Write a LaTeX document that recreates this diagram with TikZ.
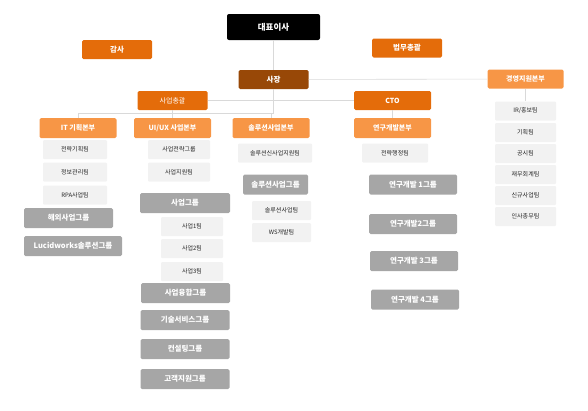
\documentclass[tikz,border=0pt]{standalone}
\usepackage{fontspec}
\setmainfont{Noto Sans CJK KR}
\usepackage{tikz}
\usetikzlibrary{shapes,arrows}
\definecolor{orgdark}{HTML}{E46C0A}
\definecolor{orglight}{HTML}{F79646}
\definecolor{brown}{HTML}{984807}
\definecolor{teamgrey}{HTML}{F2F2F2}
\definecolor{teamtext}{HTML}{262626}
\definecolor{grpgrey}{HTML}{A6A6A6}
\definecolor{linegrey}{HTML}{D9D9D9}
\tikzset{
	boss/.style  = {fill=black, text=white, rounded corners=2pt, inner sep=0pt,
		minimum width=93pt, minimum height=26pt, font=\bfseries\fontsize{8.5}{8.5}\selectfont},
	head/.style  = {fill=orgdark, text=white, rounded corners=1.5pt, inner sep=0pt,
		minimum width=70pt, minimum height=19pt, font=\bfseries\fontsize{7.5}{7.5}\selectfont},
	chief/.style = {head, fill=brown},
	div/.style   = {head, fill=orglight, minimum width=77pt, minimum height=20pt,
		font=\bfseries\fontsize{7}{7}\selectfont},
	team/.style  = {fill=teamgrey, text=teamtext, rounded corners=1pt, inner sep=0pt,
		minimum width=62pt, minimum height=19pt, font=\fontsize{6}{6}\selectfont},
	grp/.style   = {fill=grpgrey, text=white, rounded corners=1.5pt, inner sep=0pt,
		minimum width=89pt, minimum height=20pt, font=\bfseries\fontsize{7.5}{7.5}\selectfont},
	link/.style  = {draw=linegrey, line width=0.6pt}
}

\begin{document}
\begin{tikzpicture}[x=1pt, y=-1pt]
	\useasboundingbox (0,0) rectangle (588,410);
	% top level
	\draw
	node at (273.5,27)[boss] (ceo) {대표이사}
	node at (117,49.5)[head] (audit) {감사}
	node at (407,48)[head] (legal) {법무총괄}
	node at (273.5,79.5)[chief] (pres) {사장}
	node at (525.5,79)[div, minimum width=76pt, minimum height=19pt] (mgmt) {경영지원본부}
	node at (172.5,100.5)[head, font=\fontsize{7}{7}\selectfont] (biz) {사업총괄}
	node at (392.5,100.5)[head, minimum width=77pt, font=\bfseries\fontsize{7}{7}\selectfont] (cto) {CTO};
	
	% divisions
	\draw
	node at (78,128)[div] (it) {IT 기획본부}
	node at (172.5,128)[div] (uiux) {UI/UX 사업본부}
	node at (271,128)[div] (sol) {솔루션사업본부}
	node at (392.5,128)[div] (rnd) {연구개발본부};
	
	\coordinate (j2) at (273.5,113);
	
	\draw[link] (ceo) -- (pres);
	\draw[link] (pres) -- (mgmt);
	\draw[link] (pres) -- (j2);
	\draw[link] (biz) -- (cto);
	\draw[link] (it.north) |- (j2);
	\draw[link] (sol.north) -- (sol.north |- j2);
	\draw[link] (biz) -- (uiux);
	\draw[link] (cto) -- (rnd);
	
	% IT
	\draw
	node at (75,149.5)[team, minimum width=64pt] (it1) {전략기획팀}
	node at (75,172)[team, minimum width=64pt] (it2) {정보관리팀}
	node at (75,195)[team, minimum width=64pt] (it3) {RPA사업팀}
	node at (68.5,218)[grp] (itg1) {해외사업그룹}
	node at (73,246)[grp, minimum width=98pt] (itg2) {Lucidworks솔루션그룹};
	
	% UI/UX
	\draw
	node at (179,149.5)[team] (ux1) {사업전략그룹}
	node at (179,172)[team] (ux2) {사업지원팀}
	node at (185,203)[grp, minimum width=90pt] (uxg) {사업그룹}
	node at (192,226.5)[team] (ux3) {사업1팀}
	node at (192,248.5)[team] (ux4) {사업2팀}
	node at (192,271.5)[team] (ux5) {사업3팀}
	node at (185.5,293)[grp] (uxg2) {사업융합그룹}
	node at (185,320)[grp] (uxg3) {기술서비스그룹}
	node at (185,349)[grp] (uxg4) {컨설팅그룹}
	node at (185,379)[grp] (uxg5) {고객지원그룹};
	
	% solution
	\draw
	node at (275,153)[team, minimum width=74pt] (so1) {솔루션신사업지원팀}
	node at (275.5,184.5)[grp, minimum width=65pt] (sog) {솔루션사업그룹}
	node at (281.5,210.5)[team, minimum width=59pt] (so2) {솔루션사업팀}
	node at (281.5,232.5)[team, minimum width=59pt] (so3) {WS개발팀};
	
	% R&D
	\draw
	node at (395,153)[team, minimum width=66pt] (rd1) {전략행정팀}
	node at (413,184.5)[grp, minimum width=88pt] (rdg1) {연구개발 1그룹}
	node at (413,224)[grp, minimum width=88pt] (rdg2) {연구개발2그룹}
	node at (414,261)[grp, minimum width=88pt] (rdg3) {연구개발 3그룹}
	node at (415,299.5)[grp, minimum width=88pt] (rdg4) {연구개발 4그룹};
	
	% management
	\draw
	node at (525.5,111)[team, minimum width=61pt] (mg1) {IR/홍보팀}
	node at (525.5,132.5)[team, minimum width=61pt] (mg2) {기획팀}
	node at (525.5,153.5)[team, minimum width=61pt] (mg3) {공시팀}
	node at (525.5,174.5)[team, minimum width=61pt] (mg4) {재무회계팀}
	node at (525.5,195.5)[team, minimum width=61pt] (mg5) {신규사업팀}
	node at (525.5,216.5)[team, minimum width=61pt] (mg6) {인사총무팀};
	\draw[link] (mgmt) -- (mg1);
	
\end{tikzpicture}
\end{document}
